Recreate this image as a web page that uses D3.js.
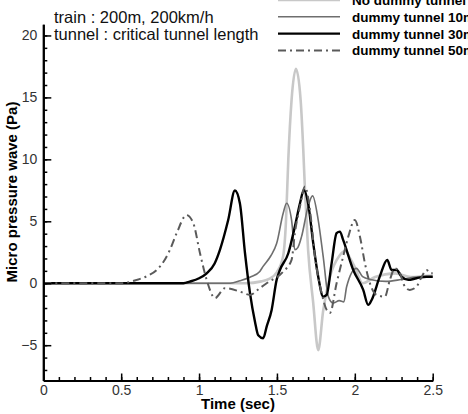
<!DOCTYPE html>
<html>
<head>
<meta charset="utf-8">
<script src="https://cdn.jsdelivr.net/npm/d3@7"></script>
<style>
  body { margin: 0; background: #fff; }
  svg { display: block; font-family: "Liberation Sans", Arial, sans-serif; }
</style>
</head>
<body>
<svg id="chart" width="468" height="414"></svg>
<script>
// -------- data (time in sec, micro pressure wave in Pa) --------
const noDummy = [
  [0, 0], [1.3, 0], [1.4, 0.15], [1.45, 0.35], [1.5, 0.9], [1.54, 2.2],
  [1.558, 5], [1.573, 10], [1.594, 14.8], [1.622, 17.3], [1.652, 14.8],
  [1.669, 10.8], [1.68, 7.5], [1.7, 2.7], [1.733, -1.6], [1.765, -5.4],
  [1.797, -2.2], [1.84, 0.5], [1.9, 2.2], [1.94, 2.6], [1.97, 2.0],
  [2.0, 1.3], [2.05, 0], [2.13, 0.5], [2.26, 0.8], [2.36, 0.5],
  [2.47, 0.6], [2.5, 0.6]
];
const dummy10 = [
  [0, 0], [1.2, 0], [1.263, 0.2], [1.33, 0.5], [1.39, 0.95], [1.41, 1.34],
  [1.46, 2.2], [1.498, 3.2], [1.54, 5.65], [1.562, 6.46], [1.594, 5.1],
  [1.615, 2.7], [1.635, 2.9], [1.658, 3.76], [1.7, 6.2], [1.729, 7.05],
  [1.765, 5.1], [1.797, 2.15], [1.83, -1.08], [1.861, -1.6], [1.9, -1.4],
  [1.93, -1.5], [1.947, -0.3], [2.01, 1.2], [2.05, 0.53], [2.1, 0.3],
  [2.2, 0.15], [2.3, 0.3], [2.4, 0.5], [2.5, 0.5]
];
const dummy30 = [
  [0, 0], [0.9, 0], [0.94, 0.13], [1.0, 0.4], [1.049, 0.8], [1.1, 1.6],
  [1.134, 2.7], [1.187, 5.1], [1.23, 7.48], [1.262, 6.46], [1.295, 2.42],
  [1.327, -0.8], [1.359, -3.1], [1.38, -4.2], [1.412, -4.44], [1.434, -3.5],
  [1.466, -2.15], [1.498, 0.27], [1.519, 1.07], [1.573, 2.42], [1.615, 4.57],
  [1.648, 6.46], [1.673, 7.54], [1.7, 6.46], [1.733, 3.23], [1.765, 0.53],
  [1.797, -1.08], [1.819, -0.94], [1.851, 1.6], [1.883, 4.04], [1.904, 4.17],
  [1.925, 3.5], [1.99, 1.07], [2.054, -0.54], [2.086, -1.75], [2.108, -1.35],
  [2.16, 0.53], [2.208, 1.88], [2.236, 1.07], [2.268, 1.07], [2.3, 0.53],
  [2.343, 0.27], [2.396, 0.4], [2.46, 0.53], [2.5, 0.53]
];
const dummy50 = [
  [0, 0], [0.5, 0], [0.6, 0.27], [0.67, 0.6], [0.728, 1.07], [0.78, 1.9],
  [0.813, 2.7], [0.856, 4.04], [0.92, 5.5], [0.963, 4.85], [1.006, 2.42],
  [1.049, 0.27], [1.102, -1.2], [1.166, -0.4], [1.262, -0.67], [1.327, -0.94],
  [1.39, -0.4], [1.434, 0], [1.54, 0.94], [1.594, 1.88], [1.615, 4.04],
  [1.648, 6.2], [1.68, 7.8], [1.712, 5.9], [1.744, 2.15], [1.787, -0.8],
  [1.819, -2.15], [1.84, -2.4], [1.883, 0], [1.925, 2.15], [1.958, 3.76],
  [2.0, 5.11], [2.033, 3.76], [2.065, 1.6], [2.097, 0], [2.14, -0.94],
  [2.193, -1.08], [2.225, 0.27], [2.257, 1.2], [2.29, 0.8], [2.321, -0.27],
  [2.353, -0.54], [2.396, -0.27], [2.43, 0.53], [2.46, 1.07], [2.49, 0.8],
  [2.5, 0.8]
];
const seriesNames = ["No dummy tunnel", "dummy tunnel 10m", "dummy tunnel 30m", "dummy tunnel 50m"];
const xTicks = [0, 0.5, 1, 1.5, 2, 2.5];
const yTicks = [-5, 0, 5, 10, 15, 20];
const notes = ["train : 200m, 200km/h", "tunnel : critical tunnel length"];

// line styles, same order as seriesNames
const styles = [
  { color: "#c8c8c8", width: 2.6, dash: null },
  { color: "#6e6e6e", width: 1.6, dash: null },
  { color: "#000", width: 2.4, dash: null },
  { color: "#5a5a5a", width: 2, dash: "8,4,2,4" }
];

// initial setup
const svg = d3.select("#chart");

// scales
const x = d3.scaleLinear().domain([0, 2.5]).range([43.3, 432.7]);
const y = d3.scaleLinear().domain([-7.85, 20.9]).range([380.5, 24.3]);

// axes - ticks point into the plot
const xAxis = d3.axisBottom(x).tickValues(xTicks).tickSizeInner(-7).tickSizeOuter(0)
  .tickPadding(4.5).tickFormat(d3.format("~g"));
const xMinor = d3.axisBottom(x).tickValues(d3.range(0, 2.501, 0.1)).tickSizeInner(-3.5)
  .tickSizeOuter(0).tickFormat("");
const yAxis = d3.axisLeft(y).tickValues(yTicks).tickSizeInner(-8).tickSizeOuter(0)
  .tickPadding(6);
const yMinor = d3.axisLeft(y).tickValues(d3.range(-7, 21, 1)).tickSizeInner(-4)
  .tickSizeOuter(0).tickFormat("");

function styleAxis(g) {
  g.select(".domain").attr("stroke", "#000").attr("stroke-width", 2);
  g.selectAll(".tick line").attr("stroke", "#000").attr("stroke-width", 1.5);
  g.selectAll(".tick text")
    .attr("fill", "#333")
    .style("font-size", "14px")
    .style("font-family", "'Liberation Sans', Arial, sans-serif");
}

// draw the curves
const line = d3.line()
  .x(d => x(d[0]))
  .y(d => y(d[1]))
  .curve(d3.curveMonotoneX);

const allSeries = [noDummy, dummy10, dummy30, dummy50];

svg.append("g")
  .attr("class", "curves")
  .selectAll("path")
  .data(allSeries)
  .enter()
  .append("path")
  .attr("d", line)
  .attr("fill", "none")
  .attr("stroke", (d, i) => styles[i].color)
  .attr("stroke-width", (d, i) => styles[i].width)
  .attr("stroke-dasharray", (d, i) => styles[i].dash)
  .attr("stroke-linejoin", "round");

// axes on top of curves
svg.append("g").attr("transform", "translate(0," + y.range()[0] + ")").call(xMinor).call(styleAxis);
svg.append("g").attr("transform", "translate(0," + y.range()[0] + ")").call(xAxis).call(styleAxis);
svg.append("g").attr("transform", "translate(" + x.range()[0] + ",0)").call(yMinor).call(styleAxis);
svg.append("g").attr("transform", "translate(" + x.range()[0] + ",0)").call(yAxis).call(styleAxis);

// axis titles
svg.append("text")
  .attr("x", 238)
  .attr("y", 409)
  .attr("text-anchor", "middle")
  .style("font-size", "15px")
  .style("font-weight", "bold")
  .text("Time (sec)");

svg.append("text")
  .attr("transform", "translate(17,192) rotate(-90)")
  .attr("text-anchor", "middle")
  .style("font-size", "15px")
  .style("font-weight", "bold")
  .text("Micro pressure wave (Pa)");

// annotation text
svg.selectAll("text.note")
  .data(notes)
  .enter()
  .append("text")
  .attr("class", "note")
  .attr("x", 54)
  .attr("y", (d, i) => 23 + i * 16.5)
  .style("font-size", "16.5px")
  .attr("fill", "#111")
  .text(d => d);

// legend
const legend = svg.append("g").attr("class", "legend");
const rows = legend.selectAll("g")
  .data(seriesNames)
  .enter()
  .append("g")
  .attr("transform", (d, i) => "translate(0," + (0 + i * 16.8) + ")");

rows.append("line")
  .attr("x1", 278)
  .attr("x2", 340)
  .attr("y1", 0)
  .attr("y2", 0)
  .attr("stroke", (d, i) => styles[i].color)
  .attr("stroke-width", (d, i) => styles[i].width)
  .attr("stroke-dasharray", (d, i) => styles[i].dash);

rows.append("text")
  .attr("x", 352)
  .attr("y", 5)
  .style("font-size", "13.5px")
  .style("font-weight", "bold")
  .text(d => d);
</script>
</body>
</html>
